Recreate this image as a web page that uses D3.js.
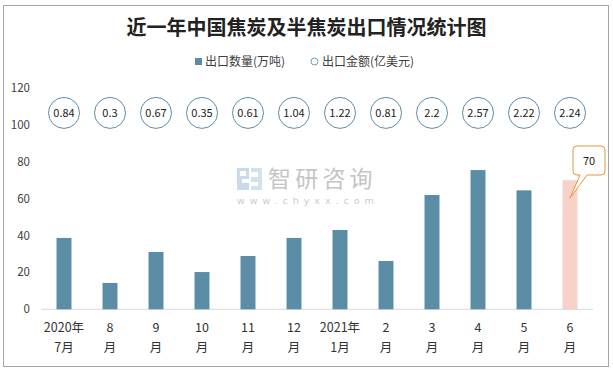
<!DOCTYPE html>
<html><head><meta charset="utf-8">
<script src="https://cdn.jsdelivr.net/npm/d3@7"></script>
<style>body{margin:0;background:#fff}svg{display:block}</style>
</head><body><svg id="c" width="613" height="369"></svg>
<script>
const categories = ["2020年7月","8月","9月","10月","11月","12月","2021年1月","2月","3月","4月","5月","6月"];
const labelLine1 = ["2020年","8","9","10","11","12","2021年","2","3","4","5","6"];
const labelLine2 = ["7月","月","月","月","月","月","1月","月","月","月","月","月"];
const quantity = [38.7, 14.3, 31.1, 20.2, 28.9, 38.7, 43.0, 26.2, 62.0, 75.5, 64.5, 70];
const amount = [0.84, 0.3, 0.67, 0.35, 0.61, 1.04, 1.22, 0.81, 2.2, 2.57, 2.22, 2.24];
const yTicks = [0, 20, 40, 60, 80, 100, 120];

const svg = d3.select("#c");
const font = "'Noto Sans CJK SC','Microsoft YaHei',sans-serif";
svg.append("rect").attr("x",3.5).attr("y",5.5).attr("width",605).attr("height",361)
  .attr("fill","#fff").attr("stroke","#a6a6a6");

svg.append("text").attr("x",306.5).attr("y",35).attr("text-anchor","middle")
  .attr("font-family",font).attr("font-size",20).attr("font-weight","bold").attr("fill","#222")
  .text("近一年中国焦炭及半焦炭出口情况统计图");

// legend
const lg = svg.append("g").attr("font-family",font).attr("font-size",12).attr("fill","#404040");
lg.append("rect").attr("x",195).attr("y",58).attr("width",7).attr("height",7).attr("fill","#5b8ea6");
lg.append("text").attr("x",205).attr("y",66).text("出口数量(万吨)");
lg.append("circle").attr("cx",314.5).attr("cy",61.5).attr("r",3.5).attr("fill","none").attr("stroke","#6f9bb2");
lg.append("text").attr("x",322).attr("y",66).text("出口金额(亿美元)");

const x = d3.scaleBand().domain(categories).range([41,593]).paddingInner(0.674).paddingOuter(0.337);
const y = d3.scaleLinear().domain([0,120]).range([309.3,88]);

// watermark
const wm = svg.append("g").attr("opacity",0.6);
wm.append("path").attr("d","M237,168 h12 v11 h-7 v4 h7 v7 h-12 v-7 h0 z M240,171 v5 h6 v-5 z").attr("fill","#a8c3dd").attr("fill-rule","evenodd");
wm.append("path").attr("d","M251,168 h11 v22 h-11 v-4 h7 v-4 h-7 v-5 h7 v-5 h-7 z").attr("fill","#b9d0e6");
wm.append("text").attr("x",268).attr("y",187).attr("font-family",font).attr("font-size",23).attr("fill","#a0a0a0").attr("letter-spacing",4.2).text("智研咨询");
wm.append("text").attr("x",237).attr("y",204).attr("font-family","'DejaVu Sans',sans-serif").attr("font-size",9.5).attr("fill","#a8a8a8").attr("letter-spacing",5).text("www.chyxx.com");

// y axis labels
svg.append("g").selectAll("text").data(yTicks).join("text")
  .attr("x",30).attr("y",d=>y(d)+4).attr("text-anchor","end")
  .attr("font-family",font).attr("font-size",11.5).attr("fill","#404040").text(d=>d);

// baseline
svg.append("line").attr("x1",41).attr("x2",593).attr("y1",y(0)).attr("y2",y(0)).attr("stroke","#d9d9d9").attr("stroke-width",1);

// bars
svg.append("g").selectAll("rect").data(quantity).join("rect")
  .attr("x",(d,i)=>x(categories[i])).attr("width",x.bandwidth())
  .attr("y",d=>y(d)).attr("height",d=>y(0)-y(d))
  .attr("fill",(d,i)=>i===quantity.length-1?"#f8d2c9":"#5b8ea6");

// amount bubbles
const bg = svg.append("g");
const cy = y(106.5);
bg.selectAll("circle").data(amount).join("circle")
  .attr("cx",(d,i)=>x(categories[i])+x.bandwidth()/2).attr("cy",cy).attr("r",15.5)
  .attr("fill","#fff").attr("stroke","#5e8fa8").attr("stroke-width",1);
bg.selectAll("text").data(amount).join("text")
  .attr("x",(d,i)=>x(categories[i])+x.bandwidth()/2).attr("y",cy+4).attr("text-anchor","middle")
  .attr("font-family",font).attr("font-size",11).attr("fill","#222").text(d=>d);

// callout for last bar
const li = quantity.length-1;
const lx = x(categories[li])+x.bandwidth()/2;
const ly = y(quantity[li]);
const bx0=573, bx1=605, by0=146, by1=175;
const path = `M${bx0+4},${by0} L${bx1-4},${by0} Q${bx1},${by0} ${bx1},${by0+4} L${bx1},${by1-4} Q${bx1},${by1} ${bx1-4},${by1} L${bx0+14},${by1} L${lx},${ly+18} L${bx0+7},${by1} L${bx0+4},${by1} Q${bx0},${by1} ${bx0},${by1-4} L${bx0},${by0+4} Q${bx0},${by0} ${bx0+4},${by0} Z`;
svg.append("path").attr("d",path).attr("fill","#fff").attr("stroke","#e8953c").attr("stroke-width",1);
svg.append("text").attr("x",(bx0+bx1)/2).attr("y",(by0+by1)/2+4).attr("text-anchor","middle")
  .attr("font-family",font).attr("font-size",11).attr("fill","#222").text(quantity[li]);

// x labels
const xl = svg.append("g").attr("font-family",font).attr("font-size",12.5).attr("fill","#333").attr("text-anchor","middle");
xl.selectAll("text.l1").data(labelLine1).join("text").attr("class","l1")
  .attr("x",(d,i)=>x(categories[i])+x.bandwidth()/2).attr("y",332).text(d=>d);
xl.selectAll("text.l2").data(labelLine2).join("text").attr("class","l2")
  .attr("x",(d,i)=>x(categories[i])+x.bandwidth()/2).attr("y",352).text(d=>d);
</script></body></html>
